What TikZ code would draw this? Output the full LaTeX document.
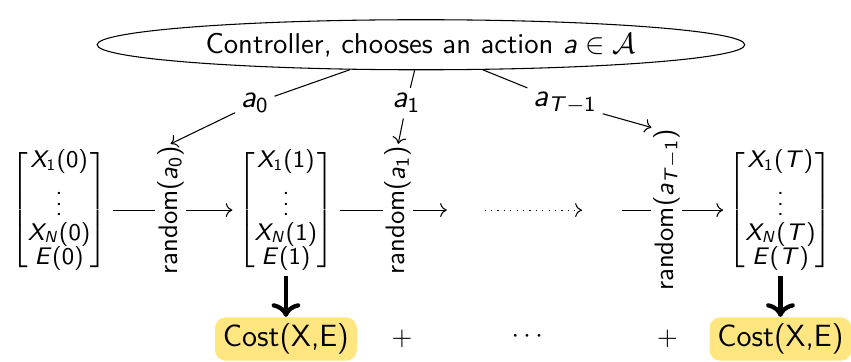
\documentclass[tikz,border=0pt]{standalone}
\usepackage{amsmath,amssymb}
\usepackage{tikz}
\usetikzlibrary{arrows.meta,positioning,shapes.geometric}
% sans serif math letters and digits
\SetSymbolFont{operators}{normal}{OT1}{cmss}{m}{n}
\SetSymbolFont{letters}{normal}{OT1}{cmss}{m}{sl}
\definecolor{Ink}{HTML}{000000}
\definecolor{CostFill}{HTML}{FFE680}
\newcommand{\statecol}[1]{\renewcommand{\arraystretch}{0.7}%
  $\begin{bmatrix} X_1(#1)\\[1pt] \vdots\\ X_N(#1)\\ E(#1)\end{bmatrix}$}
\tikzset{
  ctrl/.style={draw=Ink,ellipse,minimum width=8.54cm,minimum height=0.66cm,inner sep=0pt,font=\sffamily\fontsize{10.75}{13}\selectfont},
  statevec/.style={inner sep=2pt,font=\sffamily\small},
  randstep/.style={rotate=90,inner sep=0.5pt},
  actlabel/.style={inner sep=2pt,font=\fontsize{11.5}{14}\selectfont},
  costbox/.style={fill=CostFill,rounded corners=4pt,minimum width=1.87cm,minimum height=0.57cm,inner sep=2pt,font=\sffamily\fontsize{11.5}{14}\selectfont},
  flowarrow/.style={->,draw=Ink},
  costarrow/.style={->,draw=Ink,line width=1.6pt}
}
\begin{document}
\begin{tikzpicture}[x=1cm,y=1cm,font=\sffamily]
  \useasboundingbox (0,0) rectangle (11.22,4.76);
  \node[ctrl] (ctrl) at (5.55,4.17) {Controller, chooses an action $a\in\mathcal{A}$};
  % state vectors
  \node[statevec] (s0) at (0.78,1.99) {\statecol{0}};
  \node[statevec] (s1) at (3.77,1.99) {\statecol{1}};
  \node[statevec] (sT) at (10.29,1.99) {\statecol{T}};
  % random transitions
  \node[randstep] (r0) at (2.25,1.99) {random($a_0$)};
  \node[randstep] (r1) at (5.25,1.99) {random($a_1$)};
  \node[randstep] (rT) at (8.79,1.99) {random($a_{T-1}$)};
  % actions
  \node[actlabel] (a0) at (3.36,3.40) {$a_0$};
  \node[actlabel] (a1) at (5.36,3.40) {$a_1$};
  \node[actlabel] (aT) at (7.45,3.40) {$a_{T-1}$};
  \draw[draw=Ink] (ctrl) -- (a0);
  \draw[draw=Ink] (ctrl) -- (a1);
  \draw[draw=Ink] (ctrl) -- (aT);
  \draw[flowarrow] (a0) -- (r0.east);
  \draw[flowarrow] (a1) -- (r1.east);
  \draw[flowarrow] (aT) -- (rT.north east);
  % transitions
  \coordinate (gapA) at (5.89,1.99);
  \coordinate (dotsA) at (6.39,1.99);
  \coordinate (dotsB) at (7.67,1.99);
  \coordinate (gapB) at (8.20,1.99);
  \draw[flowarrow] (s0) -- (r0) -- (s1);
  \draw[flowarrow] (s1) -- (r1) -- (gapA);
  \draw[flowarrow,dotted] (dotsA) -- (dotsB);
  \draw[flowarrow] (gapB) -- (rT) -- (sT);
  % costs
  \node[costbox] (c1) at (3.77,0.29) {Cost(X,E)};
  \node[costbox] (cT) at (10.29,0.29) {Cost(X,E)};
  \node (p1) at (5.30,0.29) {$+$};
  \node (dd) at (6.98,0.32) {$\cdots$};
  \node (p2) at (8.80,0.29) {$+$};
  \draw[costarrow] (s1) -- (c1);
  \draw[costarrow] (sT) -- (cT);
\end{tikzpicture}
\end{document}
